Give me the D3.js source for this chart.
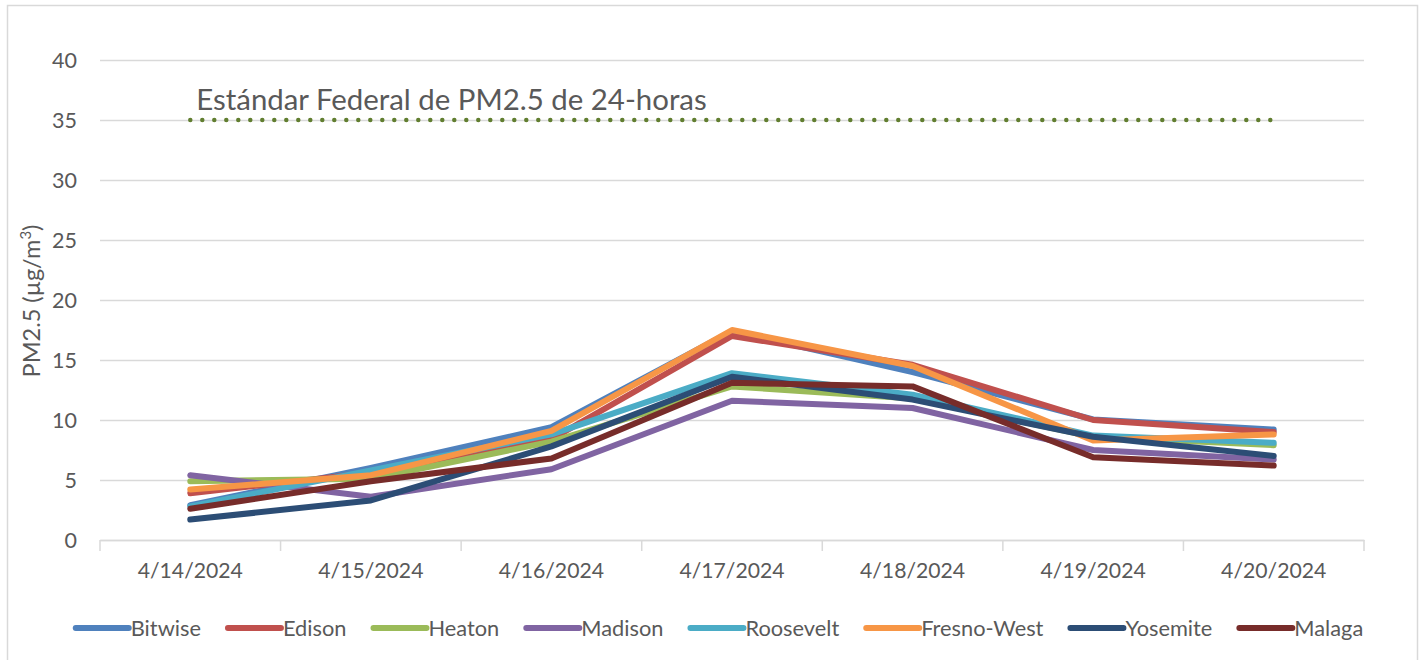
<!DOCTYPE html>
<html>
<head>
<meta charset="utf-8">
<script src="https://cdn.jsdelivr.net/npm/d3@7"></script>
<style>
body{margin:0;background:#fff;}
text{font-family:Lato,"Open Sans",sans-serif;fill:#595959;}
</style>
</head>
<body>
<script>
var WIDTH=1420,
	HEIGHT=660,
	margin={top:60,bottom:120,left:100,right:56}

var dates=['4/14/2024','4/15/2024','4/16/2024','4/17/2024','4/18/2024','4/19/2024','4/20/2024']
var yTicks=[0,5,10,15,20,25,30,35,40]
var standard=35
var standardLabel='Estándar Federal de PM2.5 de 24-horas'

var names=['Bitwise','Edison','Heaton','Madison','Roosevelt','Fresno-West','Yosemite','Malaga']
var colors=['#4f81bd','#c0504d','#9bbb59','#8064a2','#4bacc6','#f79646','#2c4d75','#772c2a']

var bitwise=[2.9,6.0,9.4,17.4,14.0,10.05,9.2]
var edison=[3.9,5.6,8.4,17.0,14.6,10.0,9.0]
var heaton=[4.9,5.1,8.2,12.8,11.8,8.6,7.9]
var madison=[5.4,3.6,5.9,11.6,11.0,7.5,6.7]
var roosevelt=[2.8,5.8,8.8,13.9,12.1,8.7,8.1]
var fresnoWest=[4.2,5.4,9.1,17.5,14.5,8.3,8.8]
var yosemite=[1.7,3.3,7.8,13.6,11.7,8.6,7.0]
var malaga=[2.6,4.9,6.8,13.1,12.8,6.9,6.2]

var series=[bitwise,edison,heaton,madison,roosevelt,fresnoWest,yosemite,malaga]

var svg=d3.select('body').append('svg')
	.attr('width',WIDTH)
	.attr('height',HEIGHT)

// chart frame
svg.append('rect')
	.attr('x',7.5).attr('y',5.5)
	.attr('width',1410).attr('height',700)
	.attr('fill','#fff')
	.attr('stroke','#d9d9d9')
	.attr('stroke-width',1.5)

var xScale=d3.scaleBand()
	.domain(dates)
	.range([margin.left,WIDTH-margin.right])
var yScale=d3.scaleLinear()
	.domain([0,40])
	.range([HEIGHT-margin.bottom,margin.top])

function xc(i){ return xScale(dates[i])+xScale.bandwidth()/2 }

// grid lines
svg.append('g')
	.attr('transform','translate('+margin.left+',0)')
	.call(d3.axisLeft(yScale).tickValues(yTicks).tickSize(-(WIDTH-margin.left-margin.right)).tickPadding(23).tickFormat(d3.format('d')))
	.call(function(g){
		g.select('.domain').remove()
		g.selectAll('.tick line').attr('stroke','#d9d9d9').attr('stroke-width',1.5)
		g.selectAll('.tick text').style('font-size','21.5px').attr('fill','#595959').attr('dy','0.35em')
	})

// x axis
svg.append('g')
	.attr('transform','translate(0,'+yScale(0)+')')
	.call(d3.axisBottom(xScale).tickSize(0).tickPadding(23))
	.call(function(g){
		g.select('.domain').attr('stroke','#d9d9d9').attr('stroke-width',1.5)
		g.selectAll('.tick text').style('font-size','21.2px').attr('fill','#595959')
	})
var edges=dates.map(function(d){return xScale(d)}).concat([xScale.range()[1]])
svg.append('g').selectAll('line').data(edges).enter().append('line')
	.attr('x1',function(d){return d}).attr('x2',function(d){return d})
	.attr('y1',yScale(0)).attr('y2',yScale(0)+11)
	.attr('stroke','#d9d9d9').attr('stroke-width',1.5)

// y title
var yt=svg.append('text')
	.attr('transform','translate(40,'+301+') rotate(-90)')
	.attr('text-anchor','middle')
	.style('font-size','23.5px')
yt.append('tspan').text('PM2.5 (µg/m')
yt.append('tspan').text('3').attr('dy',-9).style('font-size','15px')
yt.append('tspan').text(')').attr('dy',9)

// 24h standard
var line=d3.line()
	.x(function(d,i){return xc(i)})
	.y(function(d){return yScale(d)})

svg.append('path')
	.datum(dates.map(function(){return standard}))
	.attr('d',line)
	.attr('fill','none')
	.attr('stroke','#617e30')
	.attr('stroke-width',4.5)
	.attr('stroke-linecap','round')
	.attr('stroke-dasharray','0,12')

svg.append('text')
	.attr('x',xc(0)+6)
	.attr('y',yScale(standard)-10)
	.style('font-size','29.4px')
	.text(standardLabel)

// series
svg.append('g').selectAll('path').data(series).enter().append('path')
	.attr('d',line)
	.attr('fill','none')
	.attr('stroke',function(d,i){return colors[i]})
	.attr('stroke-width',6)
	.attr('stroke-linecap','round')
	.attr('stroke-linejoin','round')

// legend
var legend=svg.append('g')
var lx=0
names.forEach(function(n,i){
	var it=legend.append('g').attr('transform','translate('+lx+',0)')
	it.append('line')
		.attr('x1',3).attr('x2',56)
		.attr('stroke',colors[i]).attr('stroke-width',6).attr('stroke-linecap','round')
	var t=it.append('text').attr('x',58).attr('dy','0.35em').style('font-size','21.8px').text(n)
	lx+=58+t.node().getComputedTextLength()+24
})
lx-=24
legend.attr('transform','translate('+(718-lx/2)+',628)')
</script>
</body>
</html>
